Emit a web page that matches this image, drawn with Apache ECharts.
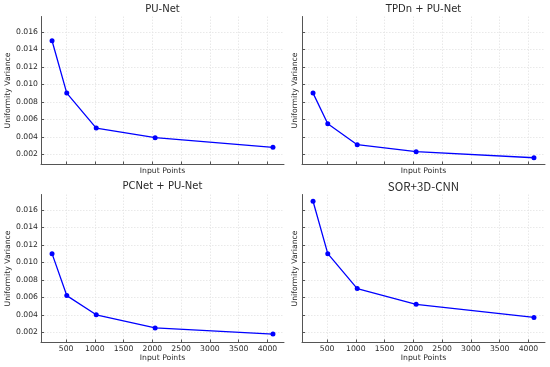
<!DOCTYPE html>
<html>
<head>
<meta charset="utf-8">
<script src="https://cdn.jsdelivr.net/npm/echarts@6/dist/echarts.min.js"></script>
<style>html,body{margin:0;padding:0;background:#fff;}#c{width:550px;height:367px;}</style>
</head>
<body>
<div id="c"></div>
<script>
// Data
const inputPoints = [256, 512, 1024, 2048, 4096];
const titles = ['PU-Net', 'TPDn + PU-Net', 'PCNet + PU-Net', 'SOR+3D-CNN'];
const puNet   = [0.015, 0.009, 0.005, 0.0039, 0.0028];
const tpdn    = [0.009, 0.0055, 0.0031, 0.0023, 0.0016];
const pcnet   = [0.011, 0.0062, 0.0040, 0.0025, 0.0018];
const sor3d   = [0.017, 0.011, 0.0070, 0.0052, 0.0037];
const xTicks = [500, 1000, 1500, 2000, 2500, 3000, 3500, 4000];
const yTicks = [0.002, 0.004, 0.006, 0.008, 0.010, 0.012, 0.014, 0.016];
const xLabel = 'Input Points';
const yLabel = 'Uniformity Variance';

const seriesData = [puNet, tpdn, pcnet, sor3d];
const FONT = 'DejaVu Sans';
const spine = '#555';
const textCol = '#2a2a2a';

const layout = [
  {left: 41, top: 16.5, showX: false, showY: true},
  {left: 302, top: 16.5, showX: false, showY: false},
  {left: 41, top: 194.5, showX: true, showY: true},
  {left: 302, top: 194.5, showX: true, showY: false}
];
const W = 243, H = 148;

const grids = [], xAxes = [], yAxes = [], series = [], graphics = [];
layout.forEach((L, i) => {
  grids.push({left: L.left, top: L.top, width: W, height: H, containLabel: false});
  xAxes.push({
    type: 'value', gridIndex: i, min: 64, max: 4288,
    name: xLabel, nameLocation: 'middle', nameGap: L.showX ? 12 : 2.5,
    nameTextStyle: {fontFamily: FONT, fontSize: 7.7, color: textCol, verticalAlign: 'top'},
    axisLine: {show: true, lineStyle: {color: spine, width: 1}},
    axisTick: {show: true, inside: true, length: 3, lineStyle: {color: spine}, customValues: xTicks},
    axisLabel: {show: L.showX, customValues: xTicks, fontFamily: FONT, fontSize: 7.7, color: textCol, margin: 3,
      formatter: v => String(v)},
    splitLine: {show: true, lineStyle: {color: '#e3e3e3', type: [1.5, 1.5], width: 0.8}}
  });
  yAxes.push({
    type: 'value', gridIndex: i, min: 0.00083, max: 0.01777,
    name: yLabel, nameLocation: 'middle', nameGap: L.showY ? 28 : 3,
    nameRotate: 90,
    nameTextStyle: {fontFamily: FONT, fontSize: 7.7, color: textCol},
    axisLine: {show: true, lineStyle: {color: spine, width: 1}},
    axisTick: {show: true, inside: true, length: 3, lineStyle: {color: spine}, customValues: yTicks},
    axisLabel: {show: L.showY, customValues: yTicks, fontFamily: FONT, fontSize: 7.7, color: textCol, margin: 3,
      formatter: v => v.toFixed(3)},
    splitLine: {show: true, lineStyle: {color: '#e3e3e3', type: [1.5, 1.5], width: 0.8}}
  });
  series.push({
    type: 'line', xAxisIndex: i, yAxisIndex: i,
    data: inputPoints.map((x, k) => [x, seriesData[i][k]]),
    symbol: 'circle', symbolSize: 5,
    lineStyle: {color: '#0000ff', width: 1.3},
    itemStyle: {color: '#0000ff'},
    animation: false
  });
  graphics.push({
    type: 'text',
    x: L.left + W / 2,
    y: i < 2 ? 9.5 : 186.5,
    style: {
      text: titles[i],
      fill: textCol,
      fontSize: i === 3 ? 11.5 : 10,
      fontFamily: i === 3 ? 'Noto Sans CJK SC' : 'DejaVu Sans',
      textAlign: 'center',
      textVerticalAlign: 'middle'
    }
  });
});

const chart = echarts.init(document.getElementById('c'), null, {renderer: 'canvas'});
chart.setOption({
  animation: false,
  backgroundColor: '#fff',
  grid: grids, xAxis: xAxes, yAxis: yAxes, series: series,
  graphic: graphics
});
</script>
</body>
</html>
